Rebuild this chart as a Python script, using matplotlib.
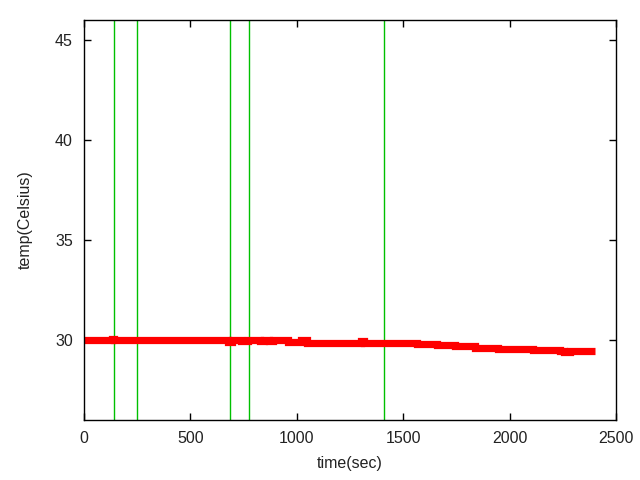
import matplotlib
matplotlib.use("Agg")
import matplotlib.pyplot as plt

# step breakpoints of the temperature log (sec, Celsius)
time_sec = [0, 132, 141, 677, 695, 738, 771, 827, 846, 869, 888, 959, 1020, 1048,
            1302, 1315, 1565, 1580, 1659, 1670, 1743, 1837, 1945, 2110, 2125,
            2237, 2255, 2285, 2300, 2400]
temp_c = [30.0, 30.0625, 30.0, 29.9, 30.0, 29.9375, 30.0, 29.9375, 30.0, 29.9375, 30.0,
          29.9, 30.0, 29.875, 29.9375, 29.875, 29.8125, 29.8125, 29.75, 29.75, 29.6875,
          29.625, 29.5625, 29.5, 29.5, 29.4375, 29.4, 29.4375, 29.4375, 29.4375]

# event markers
events = [141, 249, 686, 775, 1410]

plt.rcParams['font.family'] = ['Liberation Sans', 'DejaVu Sans']
plt.rcParams['font.size'] = 11.5

fig = plt.figure(figsize=(6.4, 4.8), dpi=100)
ax = fig.add_axes([0.131, 0.125, 0.8315, 0.8333])

for t in events:
    ax.axvline(t, color='#00c000', linewidth=1.0)

ax.plot(time_sec, temp_c, color='#ff0000', linewidth=5.2, drawstyle='steps-post',
        solid_capstyle='butt', solid_joinstyle='miter')

ax.set_xlim(0, 2500)
ax.set_ylim(26, 46)
ax.set_xticks([0, 500, 1000, 1500, 2000, 2500])
ax.set_yticks([30, 35, 40, 45])
ax.tick_params(direction='in', top=True, right=True, length=5, width=1, pad=8,
               labelcolor='#222222')
for s in ax.spines.values():
    s.set_linewidth(1.0)

ax.set_xlabel('time(sec)', labelpad=7, color='#222222')
ax.set_ylabel('temp(Celsius)', labelpad=16, color='#222222')

fig.savefig('out.png', dpi=100)
